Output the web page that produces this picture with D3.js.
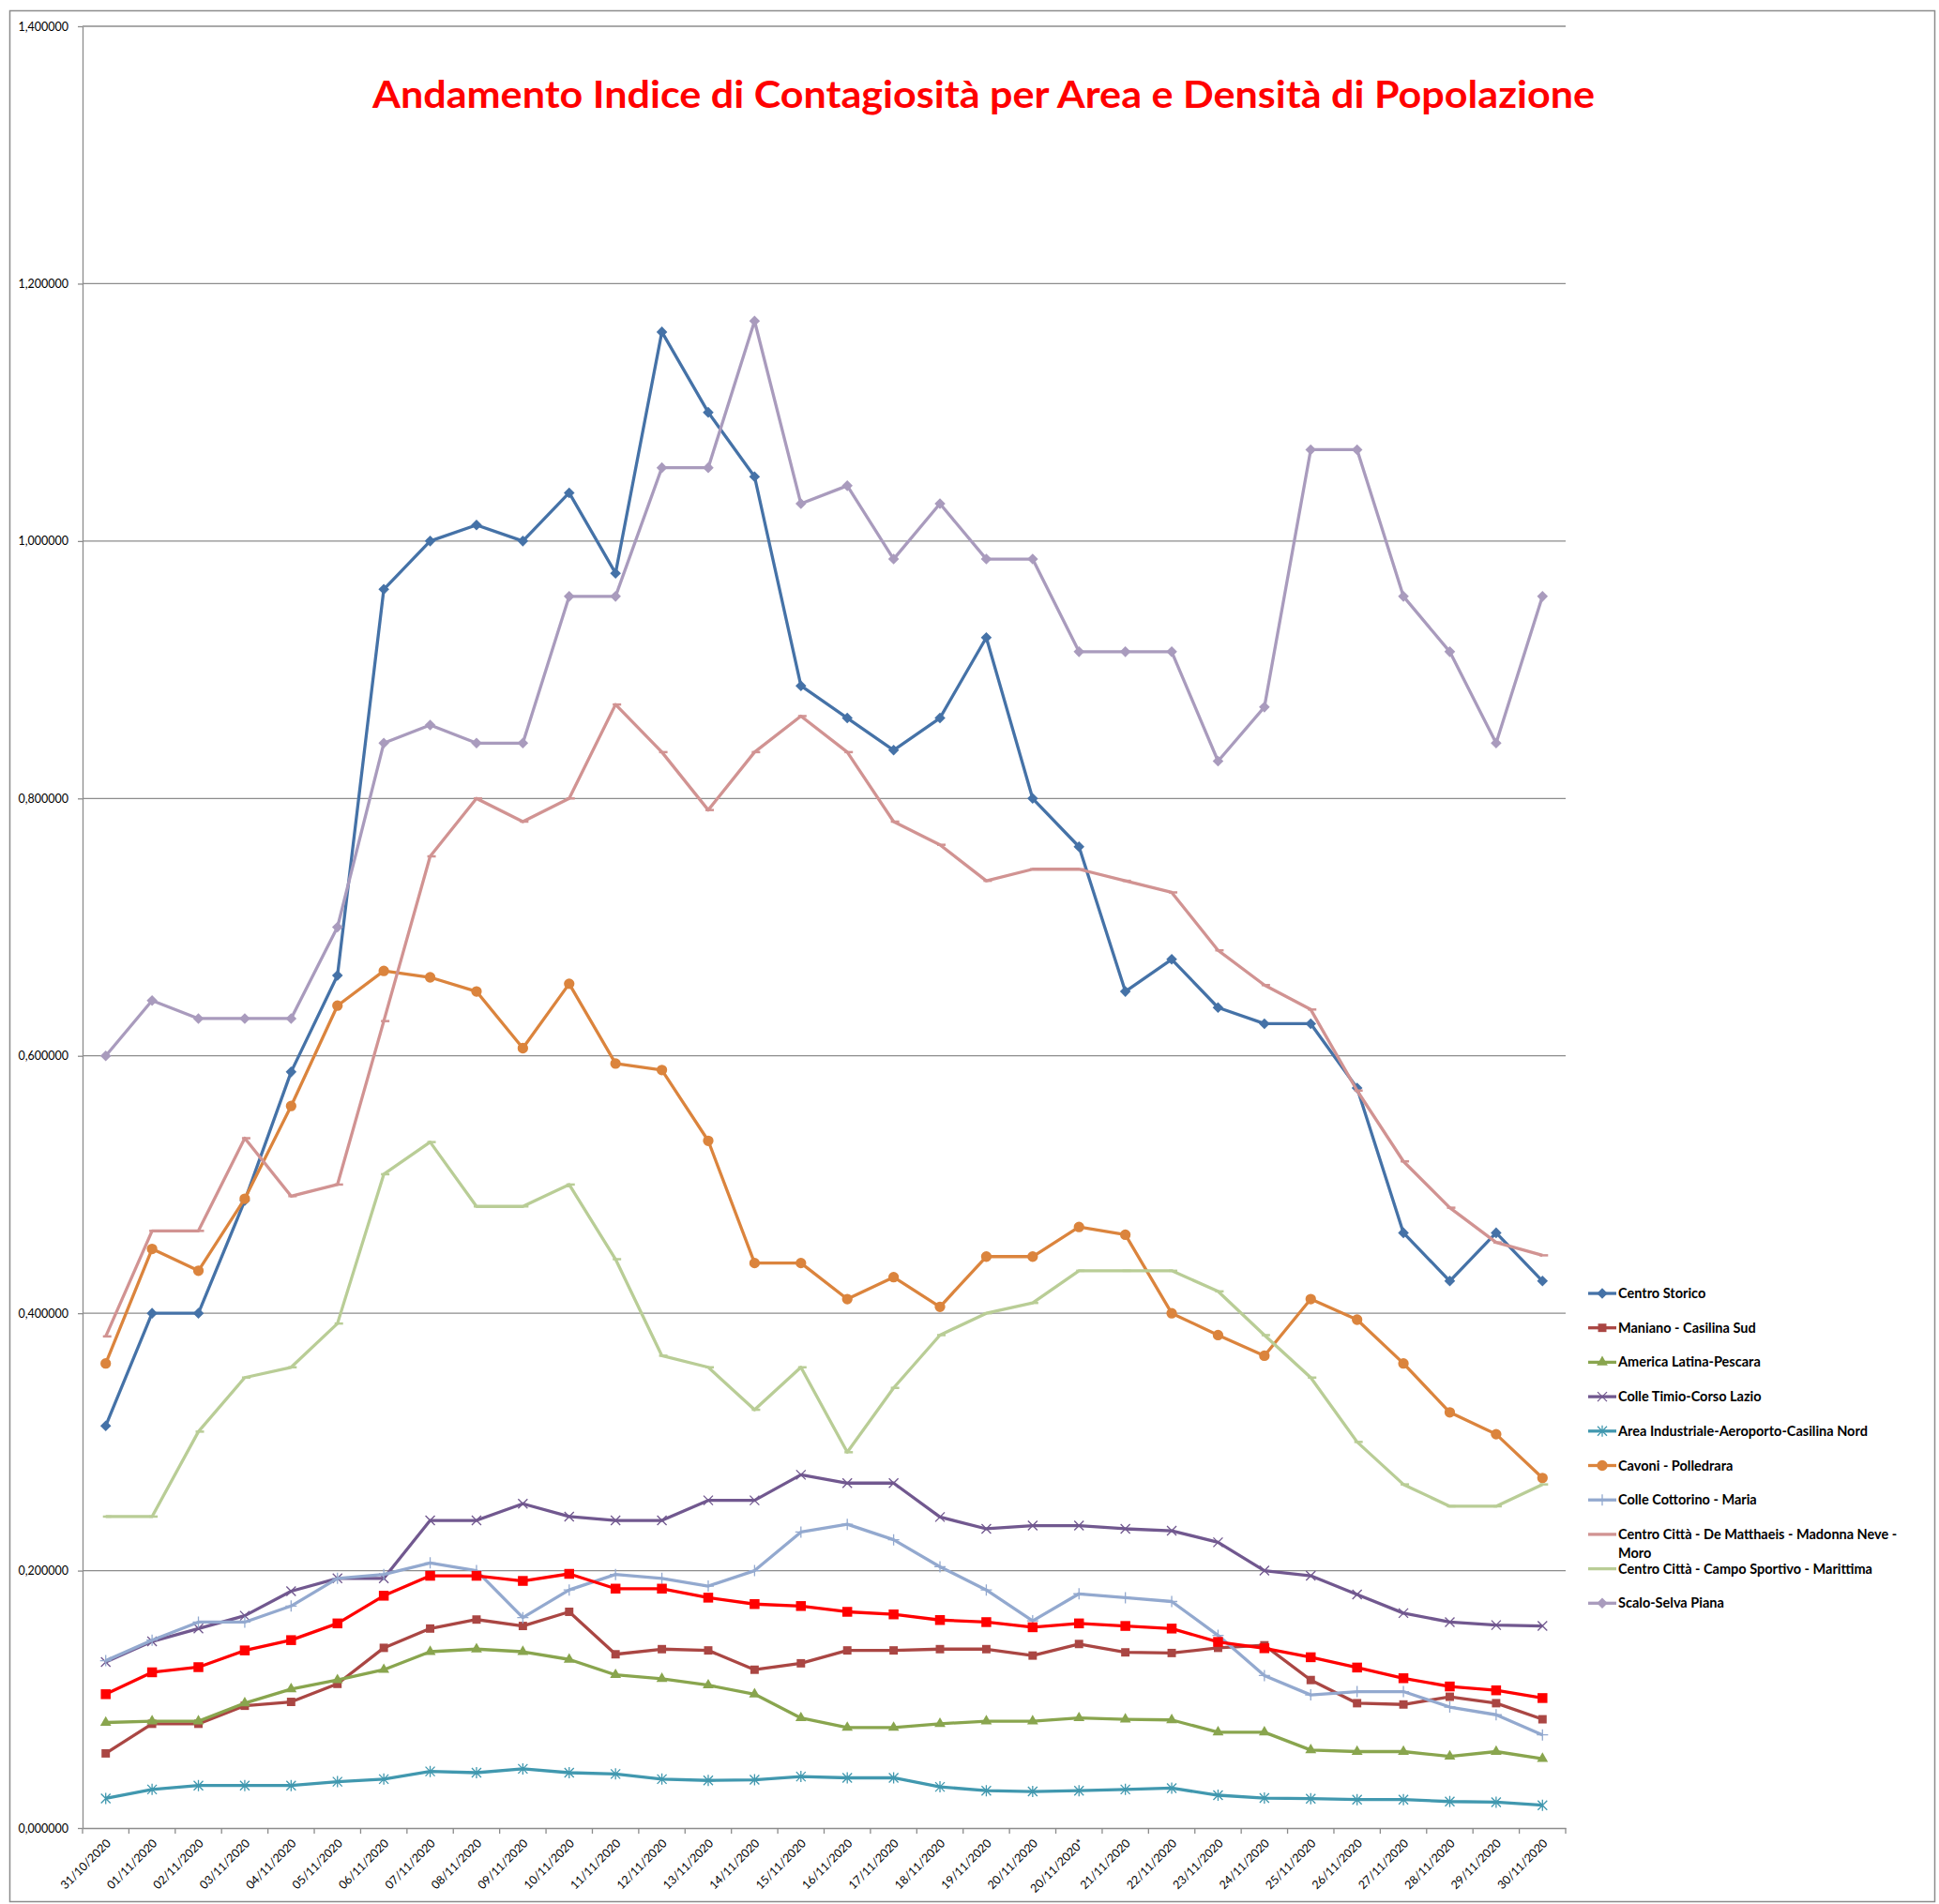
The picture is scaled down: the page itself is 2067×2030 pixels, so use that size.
<!DOCTYPE html>
<meta charset="utf-8">
<style>
body { margin: 0; background: #fff; }
text { font-family: Lato, "Open Sans", sans-serif; }
.axis text { font-size: 12.5px; fill: #000; }
.axis path, .axis line { stroke: #8c8c8c; stroke-width: 1.3px; }
.grid line { stroke: #8c8c8c; stroke-width: 1.3px; }
.legend text { font-size: 14.5px; font-weight: bold; fill: #000; }
.serie path.line { fill: none; stroke-width: 3.3px; stroke-linejoin: round; }
</style>
<body>
<script src="https://cdn.jsdelivr.net/npm/d3@7"></script>
<script>

var dates = ["31/10/2020","01/11/2020","02/11/2020","03/11/2020","04/11/2020","05/11/2020","06/11/2020",
  "07/11/2020","08/11/2020","09/11/2020","10/11/2020","11/11/2020","12/11/2020","13/11/2020","14/11/2020",
  "15/11/2020","16/11/2020","17/11/2020","18/11/2020","19/11/2020","20/11/2020","20/11/2020*","21/11/2020",
  "22/11/2020","23/11/2020","24/11/2020","25/11/2020","26/11/2020","27/11/2020","28/11/2020","29/11/2020","30/11/2020"];

var yTicks = [0, 0.2, 0.4, 0.6, 0.8, 1.0, 1.2, 1.4];

var title = "Andamento Indice di Contagiosità per Area e Densità di Popolazione";

var centroStorico = [0.3125,0.4,0.4,0.4875,0.5875,0.6625,0.9625,1.0,1.0125,1.0,1.0375,0.975,1.1625,1.1,1.05,0.8875,
  0.8625,0.8375,0.8625,0.925,0.8,0.7625,0.65,0.675,0.6375,0.625,0.625,0.575,0.4625,0.425,0.4625,0.425];
var maniano = [0.058,0.081,0.081,0.095,0.098,0.112,0.140,0.155,0.162,0.157,0.168,0.135,0.139,0.138,0.123,0.128,
  0.138,0.138,0.139,0.139,0.134,0.143,0.1365,0.136,0.140,0.142,0.115,0.097,0.096,0.102,0.097,0.0845];
var americaLatina = [0.082,0.083,0.083,0.097,0.108,0.115,0.123,0.137,0.139,0.137,0.131,0.119,0.116,0.111,0.104,0.0855,
  0.078,0.078,0.081,0.083,0.083,0.0855,0.0845,0.084,0.0744,0.0744,0.0606,0.0594,0.0594,0.0557,0.0594,0.0539];
var colleTimio = [0.129,0.145,0.155,0.165,0.184,0.194,0.194,0.239,0.239,0.252,0.242,0.239,0.239,0.2546,0.2546,0.2745,
  0.268,0.268,0.2417,0.2325,0.235,0.235,0.2325,0.231,0.222,0.200,0.196,0.1815,0.167,0.160,0.1577,0.157];
var areaIndustriale = [0.023,0.030,0.033,0.033,0.033,0.036,0.038,0.044,0.043,0.046,0.043,0.042,0.038,0.037,0.0375,0.040,
  0.039,0.039,0.032,0.029,0.0284,0.029,0.030,0.031,0.0255,0.0233,0.0228,0.0221,0.0221,0.0206,0.0201,0.0177];
var cavoni = [0.361,0.450,0.433,0.489,0.561,0.639,0.666,0.661,0.650,0.606,0.656,0.594,0.589,0.534,0.439,0.439,
  0.411,0.428,0.405,0.444,0.444,0.467,0.461,0.400,0.383,0.367,0.411,0.395,0.361,0.323,0.306,0.272];
var colleCottorino = [0.130,0.146,0.160,0.160,0.1725,0.194,0.197,0.206,0.200,0.1635,0.185,0.197,0.194,0.188,0.200,0.230,
  0.236,0.224,0.203,0.185,0.161,0.182,0.179,0.176,0.1497,0.1185,0.1034,0.106,0.106,0.094,0.088,0.0724];
var deMatthaeis = [0.382,0.464,0.464,0.536,0.491,0.500,0.627,0.755,0.800,0.782,0.800,0.873,0.836,0.791,0.836,0.864,
  0.836,0.782,0.764,0.736,0.745,0.745,0.736,0.727,0.682,0.655,0.636,0.573,0.518,0.482,0.455,0.445];
var campoSportivo = [0.242,0.242,0.308,0.350,0.358,0.392,0.508,0.533,0.483,0.483,0.500,0.442,0.367,0.358,0.325,0.358,
  0.292,0.342,0.383,0.400,0.408,0.433,0.433,0.433,0.417,0.383,0.350,0.300,0.267,0.250,0.250,0.267];
var scaloSelva = [0.600,0.643,0.629,0.629,0.629,0.700,0.843,0.857,0.843,0.843,0.957,0.957,1.057,1.057,1.171,1.029,
  1.043,0.986,1.029,0.986,0.986,0.914,0.914,0.914,0.829,0.871,1.071,1.071,0.957,0.914,0.843,0.957];
// serie rossa senza voce in legenda
var mediaComune = [0.104,0.121,0.125,0.138,0.146,0.159,0.1805,0.196,0.196,0.192,0.1975,0.186,0.186,0.179,0.174,0.1725,
  0.168,0.166,0.1616,0.160,0.156,0.159,0.157,0.155,0.1446,0.1397,0.1327,0.1247,0.1164,0.110,0.107,0.101];

var series = [
  {name: "Centro Storico", values: centroStorico, color: "#4572A7", marker: "diamond"},
  {name: "Maniano - Casilina Sud", values: maniano, color: "#AA4643", marker: "square"},
  {name: "America Latina-Pescara", values: americaLatina, color: "#89A54E", marker: "triangle"},
  {name: "Colle Timio-Corso Lazio", values: colleTimio, color: "#71588F", marker: "times"},
  {name: "Area Industriale-Aeroporto-Casilina Nord", values: areaIndustriale, color: "#4198AF", marker: "asterisk"},
  {name: "Cavoni - Polledrara", values: cavoni, color: "#DB843D", marker: "circle"},
  {name: "Colle Cottorino - Maria", values: colleCottorino, color: "#93A9CF", marker: "plus"},
  {name: "Centro Città - De Matthaeis - Madonna Neve - Moro", values: deMatthaeis, color: "#D19392", marker: "dash"},
  {name: "Centro Città - Campo Sportivo - Marittima", values: campoSportivo, color: "#B9CD96", marker: "dash"},
  {name: "Scalo-Selva Piana", values: scaloSelva, color: "#A99BBD", marker: "diamond"},
  {name: null, values: mediaComune, color: "#FF0000", marker: "bigsquare"}
];

var width = 2067,
    height = 2030,
    plotLeft = 88, plotRight = 1669, plotTop = 28, plotBottom = 1949;

var svg = d3.select("body").append("svg")
    .attr("width", width)
    .attr("height", height);

// cornice del grafico
svg.append("rect")
    .attr("x", 10.5).attr("y", 11.5)
    .attr("width", 2052).attr("height", 2016)
    .attr("fill", "none").attr("stroke", "#8c8c8c").attr("stroke-width", 1.5);

var x = d3.scaleBand().domain(dates).range([plotLeft, plotRight]);
var y = d3.scaleLinear().domain([0, 1.4]).range([plotBottom, plotTop]);

var fmt = function(d) { return d3.format(".6f")(d).replace(".", ","); };

// griglia
svg.append("g").attr("class", "grid")
  .selectAll("line").data(yTicks.slice(1)).enter().append("line")
    .attr("x1", plotLeft).attr("x2", plotRight)
    .attr("y1", function(d) { return y(d); })
    .attr("y2", function(d) { return y(d); });

var yAxis = svg.append("g").attr("class", "axis")
    .attr("transform", "translate(" + plotLeft + ",0)")
    .call(d3.axisLeft(y).tickValues(yTicks).tickFormat(fmt).tickSize(5).tickSizeOuter(0).tickPadding(10));

var xAxis = svg.append("g").attr("class", "axis")
    .attr("transform", "translate(0," + plotBottom + ")")
    .call(d3.axisBottom(x).tickSize(0).tickSizeOuter(0).tickPadding(0));

xAxis.selectAll(".tick text")
    .attr("y", 0).attr("dy", "0.35em")
    .attr("text-anchor", "end")
    .attr("transform", "translate(3,14) rotate(-45)");

// tacche ai confini delle categorie
xAxis.selectAll("line.bound")
    .data(dates.map(function(d) { return x(d); }).concat([plotRight]))
  .enter().append("line").attr("class", "bound")
    .attr("x1", function(d) { return d; }).attr("x2", function(d) { return d; })
    .attr("y1", 0).attr("y2", 6);

function drawMarker(g, type, color) {
  if (type === "diamond") {
    g.append("path").attr("d", d3.symbol(d3.symbolDiamond2, 85)()).attr("fill", color);
  } else if (type === "square") {
    g.append("path").attr("d", d3.symbol(d3.symbolSquare, 80)()).attr("fill", color);
  } else if (type === "bigsquare") {
    g.append("path").attr("d", d3.symbol(d3.symbolSquare, 110)()).attr("fill", color);
  } else if (type === "triangle") {
    g.append("path").attr("d", d3.symbol(d3.symbolTriangle, 60)()).attr("fill", color);
  } else if (type === "circle") {
    g.append("path").attr("d", d3.symbol(d3.symbolCircle, 100)()).attr("fill", color);
  } else {
    var p = {
      times: "M-5,-5L5,5M-5,5L5,-5",
      asterisk: "M-5,-5L5,5M-5,5L5,-5M0,-6L0,6",
      plus: "M-6,0L6,0M0,-6L0,6",
      dash: "M-3,0L6,0"
    }[type];
    g.append("path").attr("d", p).attr("fill", "none").attr("stroke", color)
      .attr("stroke-width", type === "dash" ? 2.5 : 1.3);
  }
}

var line = d3.line()
    .x(function(d, i) { return x(dates[i]) + x.bandwidth() / 2; })
    .y(function(d) { return y(d); });

series.forEach(function(s) {
  var g = svg.append("g").attr("class", "serie");
  g.append("path").attr("class", "line")
    .attr("d", line(s.values))
    .attr("stroke", s.color);
  g.selectAll("g.mk").data(s.values).enter().append("g").attr("class", "mk")
    .attr("transform", function(d, i) {
      return "translate(" + (x(dates[i]) + x.bandwidth() / 2) + "," + y(d) + ")";
    })
    .each(function() { drawMarker(d3.select(this), s.marker, s.color); });
});

// titolo
svg.append("text")
    .attr("x", 1048.5).attr("y", 115)
    .attr("text-anchor", "middle")
    .attr("font-size", 41).attr("font-weight", "bold")
    .attr("fill", "#FF0000")
    .attr("textLength", 1303).attr("lengthAdjust", "spacingAndGlyphs")
    .text(title);

// legenda
var legend = svg.append("g").attr("class", "legend");
series.filter(function(s) { return s.name; }).forEach(function(s, i) {
  var ly = 1379 + i * 36.7;
  var g = legend.append("g").attr("transform", "translate(1693," + ly + ")");
  g.append("line").attr("x1", 0).attr("x2", 30).attr("y1", 0).attr("y2", 0)
    .attr("stroke", s.color).attr("stroke-width", 3.3);
  if (s.marker !== "dash") {
    var m = g.append("g").attr("transform", "translate(15,0)");
    drawMarker(m, s.marker === "bigsquare" ? "square" : s.marker, s.color);
  }
  var t = g.append("text").attr("x", 32).attr("y", 0).attr("dy", "0.35em");
  // a capo se la voce è troppo lunga
  var words = s.name.split(" "), lineWords = [], lineNo = 0;
  var tspan = t.append("tspan").attr("x", 32);
  words.forEach(function(w) {
    lineWords.push(w);
    tspan.text(lineWords.join(" "));
    if (tspan.node().getComputedTextLength() > 335 && lineWords.length > 1) {
      lineWords.pop();
      tspan.text(lineWords.join(" "));
      lineWords = [w];
      lineNo++;
      tspan = t.append("tspan").attr("x", 32).attr("dy", "20px").text(w);
    }
  });
});

</script>
</body>
</html>
